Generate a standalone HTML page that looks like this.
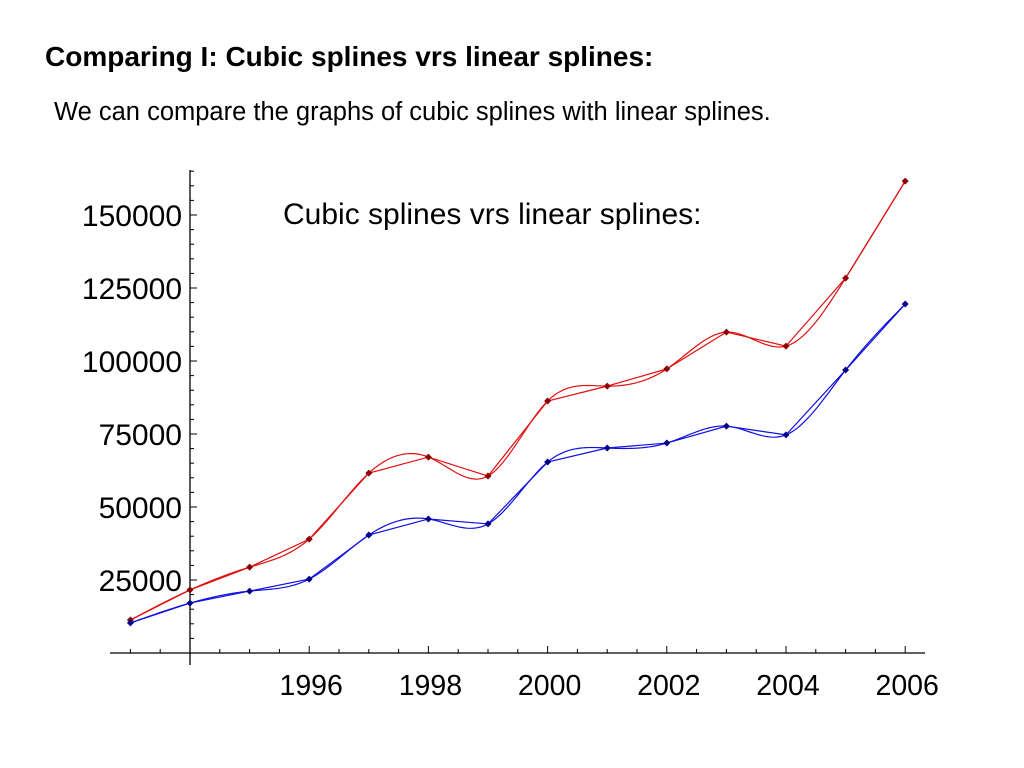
<!DOCTYPE html>
<html><head><meta charset="utf-8">
<style>
body{margin:0;width:1024px;height:768px;background:#fff;overflow:hidden;font-family:"Liberation Sans",Arial,sans-serif;}
#t{position:absolute;left:45px;top:41px;font-size:28px;font-weight:bold;color:#000;white-space:nowrap;}
#s{position:absolute;left:54px;top:98px;font-size:25.5px;color:#000;white-space:nowrap;}
svg{position:absolute;left:0;top:0;}
</style></head><body>
<div id="t">Comparing I: Cubic splines vrs linear splines:</div>
<div id="s">We can compare the graphs of cubic splines with linear splines.</div>
<svg id="c" width="1024" height="768"></svg>
<script>
const years=[1993,1994,1995,1996,1997,1998,1999,2000,2001,2002,2003,2004,2005,2006];
const redValues=[11300,21600,29400,39000,61600,67100,60600,86300,91400,97300,109900,105100,128400,161600];
const blueValues=[10300,17100,21200,25300,40400,45900,44200,65400,70200,71900,77700,74700,96900,119500];
const xTickLabels=[1996,1998,2000,2002,2004,2006];
const yTickLabels=[25000,50000,75000,100000,125000,150000];

const NS="http://www.w3.org/2000/svg";
const svg=document.getElementById('c');
const X=y=>190+(y-1994)*59.6;
const Y=v=>653-v*(73/25000);
function el(tag,attrs,parent){const e=document.createElementNS(NS,tag);for(const k in attrs)e.setAttribute(k,attrs[k]);(parent||svg).appendChild(e);return e;}

let ax=el('line',{x1:110,y1:653,x2:925,y2:653,stroke:'#000','stroke-width':1.3});


let ay=el('line',{x1:190,y1:170,x2:190,y2:665,stroke:'#000','stroke-width':1.3});


for(let v=5000;v<=165000;v+=5000){const yy=Y(v);if(yy<170)break;const major=v%25000===0;el('line',{x1:190,y1:yy,x2:190+(major?7:4),y2:yy,stroke:'#000','stroke-width':1});}
for(let t=1993;t<=2006;t+=0.5){const xx=X(t);const major=Number.isInteger(t)&&t%2===0;el('line',{x1:xx,y1:653,x2:xx,y2:653-(major?7:4),stroke:'#000','stroke-width':1});}
yTickLabels.forEach(v=>{const t=el('text',{x:182,y:Y(v)+11,'text-anchor':'end','font-size':30,fill:'#000','font-family':'Liberation Sans, Arial, sans-serif'});t.textContent=v;

});
xTickLabels.forEach(v=>{const t=el('text',{x:X(v)+2,y:695,'text-anchor':'middle','font-size':28.5,fill:'#000','font-family':'Liberation Sans, Arial, sans-serif'});t.textContent=v;

});
const ct=el('text',{x:283,y:224,'font-size':30,fill:'#000','font-family':'Liberation Sans, Arial, sans-serif'});ct.textContent='Cubic splines vrs linear splines:';



function spline(xs,ys){const n=xs.length,h=[],a=[],l=[1],mu=[0],z=[0],c=new Array(n).fill(0),b=[],d=[];
for(let i=0;i<n-1;i++)h[i]=xs[i+1]-xs[i];
for(let i=1;i<n-1;i++)a[i]=3/h[i]*(ys[i+1]-ys[i])-3/h[i-1]*(ys[i]-ys[i-1]);
for(let i=1;i<n-1;i++){l[i]=2*(xs[i+1]-xs[i-1])-h[i-1]*mu[i-1];mu[i]=h[i]/l[i];z[i]=(a[i]-h[i-1]*z[i-1])/l[i];}
for(let j=n-2;j>=0;j--){c[j]=(j<n-1&&j>0?z[j]:0)-mu[j]*c[j+1];if(j===0)c[0]=0;b[j]=(ys[j+1]-ys[j])/h[j]-h[j]*(c[j+1]+2*c[j])/3;d[j]=(c[j+1]-c[j])/(3*h[j]);}
const pts=[];for(let i=0;i<n-1;i++)for(let s=0;s<20;s++){const dx=h[i]*s/20;pts.push([xs[i]+dx,ys[i]+b[i]*dx+c[i]*dx*dx+d[i]*dx*dx*dx]);}
pts.push([xs[n-1],ys[n-1]]);return pts;}

function series(vals,color,dot,name){
  const lin=el('polyline',{points:years.map((y,i)=>X(y)+','+Y(vals[i])).join(' '),fill:'none',stroke:color,'stroke-width':1.2});
  
  
  const cub=el('polyline',{points:spline(years,vals).map(p=>X(p[0])+','+Y(p[1])).join(' '),fill:'none',stroke:color,'stroke-width':1.2});
  
  
  years.forEach((y,i)=>{const cx=X(y),cy=Y(vals[i]);const p=el('polygon',{points:`${cx},${cy-3.5} ${cx+3.5},${cy} ${cx},${cy+3.5} ${cx-3.5},${cy}`,fill:dot});
  
  });
}
series(redValues,'#e01010','#8b0000','red');
series(blueValues,'#1010e0','#00008b','blue');
</script>
</body></html>
